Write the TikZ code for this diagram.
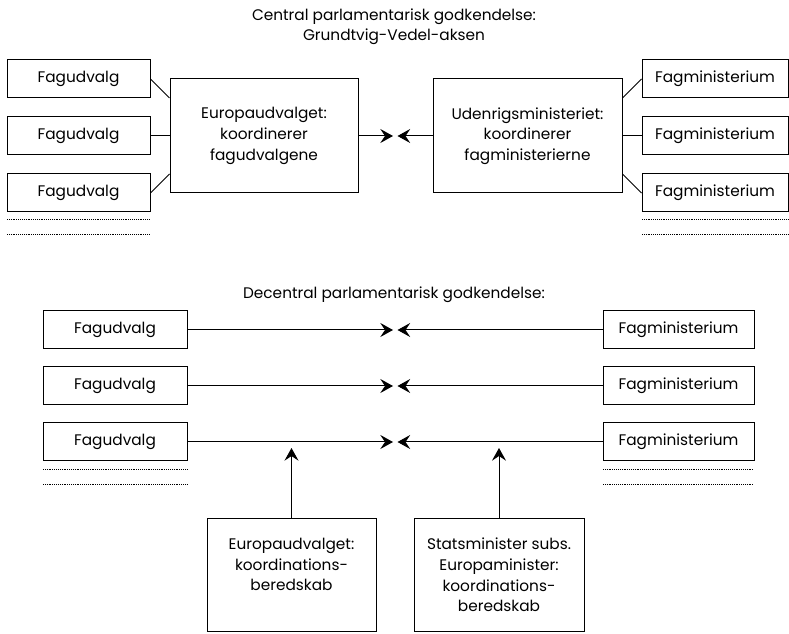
\documentclass[tikz,border=0pt]{standalone}
\usepackage{fontspec}
\setmainfont{Poppins}
\usetikzlibrary{arrows.meta}

\tikzset{every picture/.style={line width=0.75pt}}
\tikzset{
  fagbox/.style={draw, rectangle, inner sep=0pt, minimum height=28.5pt, font=\fontsize{11.5}{15.5}\selectfont},
  midbox/.style={draw, rectangle, inner sep=0pt, align=center, font=\fontsize{11.5}{15.5}\selectfont},
  tekst/.style={inner sep=0pt, align=center, font=\fontsize{11.5}{15.5}\selectfont},
  prikline/.style={densely dotted, line width=0.4pt},
  pil/.style={-{Stealth[length=9.5pt,width=10.5pt,inset=3.5pt]}},
  overskrift/.style={align=center, inner sep=0pt, font=\fontsize{11.5}{15}\selectfont}
}

\begin{document}
\begin{tikzpicture}[x=0.75pt,y=0.75pt,yscale=-1,xscale=1]
\useasboundingbox (0,0) rectangle (789,634);

% Text Node
\node [overskrift] (titel1) at (394,27) {Central parlamentarisk godkendelse:\\Grundtvig-Vedel-aksen};
% Text Node
\node [fagbox, minimum width=107.25pt] (fu1) at (78.5,79) {Fagudvalg};
\node [fagbox, minimum width=107.25pt] (fu2) at (78.5,136) {Fagudvalg};
\node [fagbox, minimum width=107.25pt] (fu3) at (78.5,193) {Fagudvalg};
% Text Node
\node [midbox, minimum width=141pt, minimum height=85.5pt] (eu) at (264,136) {Europaudvalget:\\koordinerer\\fagudvalgene};
% Text Node
\node [midbox, minimum width=141.75pt, minimum height=85.5pt] (ud) at (527.5,136) {Udenrigsministeriet:\\koordinerer\\fagministerierne};
% Text Node
\node [fagbox, minimum width=109.5pt] (fm1) at (715,79) {Fagministerium};
\node [fagbox, minimum width=109.5pt] (fm2) at (715,136) {Fagministerium};
\node [fagbox, minimum width=109.5pt] (fm3) at (715,193) {Fagministerium};
% Dotted lines
\coordinate (pl1a) at (7,219); \coordinate (pl1b) at (150,219);
\coordinate (pl2a) at (7,234); \coordinate (pl2b) at (150,234);
\coordinate (pr1a) at (642,219); \coordinate (pr1b) at (788,219);
\coordinate (pr2a) at (642,234); \coordinate (pr2b) at (788,234);
\draw [prikline] (pl1a) -- (pl1b);
\draw [prikline] (pl2a) -- (pl2b);
\draw [prikline] (pr1a) -- (pr1b);
\draw [prikline] (pr2a) -- (pr2b);
% Connection
\draw (fu1.east) -- ([yshift=-28.5pt]eu.west);
\draw (fu2.east) -- (eu.west);
\draw (fu3.east) -- ([yshift=28.5pt]eu.west);
\draw (fm1.west) -- ([yshift=-28.5pt]ud.east);
\draw (fm2.west) -- (ud.east);
\draw (fm3.west) -- ([yshift=28.5pt]ud.east);
% Connection
\coordinate (mt1) at (393,136); \coordinate (mt2) at (397.5,136);
\draw [pil] (eu.east) -- (mt1);
\draw [pil] (ud.west) -- (mt2);

% Text Node
\node [overskrift] (titel2) at (394,295) {Decentral parlamentarisk godkendelse:};
% Text Node
\foreach \i/\y in {1/330,2/386,3/442} {
  \node [fagbox, minimum width=108pt] (bfu\i) at (115,\y) {Fagudvalg};
  \node [fagbox, minimum width=113.25pt] (bfm\i) at (678.5,\y) {Fagministerium};
  \coordinate (bl\i) at (393,\y);
  \coordinate (br\i) at (397.5,\y);
  % Connection
  \draw [pil] (bfu\i.east) -- (bl\i);
  \draw [pil] (bfm\i.west) -- (br\i);
}
% Dotted lines
\coordinate (ql1a) at (43,469); \coordinate (ql1b) at (187,469);
\coordinate (ql2a) at (43,484); \coordinate (ql2b) at (187,484);
\coordinate (qr1a) at (603,469); \coordinate (qr1b) at (754,469);
\coordinate (qr2a) at (603,484); \coordinate (qr2b) at (754,484);
\draw [prikline] (ql1a) -- (ql1b);
\draw [prikline] (ql2a) -- (ql2b);
\draw [prikline] (qr1a) -- (qr1b);
\draw [prikline] (qr2a) -- (qr2b);
% Text Node
\node [draw, minimum width=126.75pt, minimum height=84.75pt] (euk) at (291.5,574.5) {};
\node [tekst, anchor=north] (euktxt) at ([yshift=15pt]euk.north) {Europaudvalget:\\koordinations-\\beredskab};
\node [draw, minimum width=127.5pt, minimum height=84.75pt] (smk) at (499,574.5) {};
\node [tekst, anchor=north] (smktxt) at ([yshift=15pt]smk.north) {Statsminister subs.\\Europaminister:\\koordinations-\\beredskab};
% Connection
\coordinate (vt1) at (291.5,448); \coordinate (vt2) at (499,448);
\draw [pil] (euk.north) -- (vt1);
\draw [pil] (smk.north) -- (vt2);

\end{tikzpicture}
\end{document}
